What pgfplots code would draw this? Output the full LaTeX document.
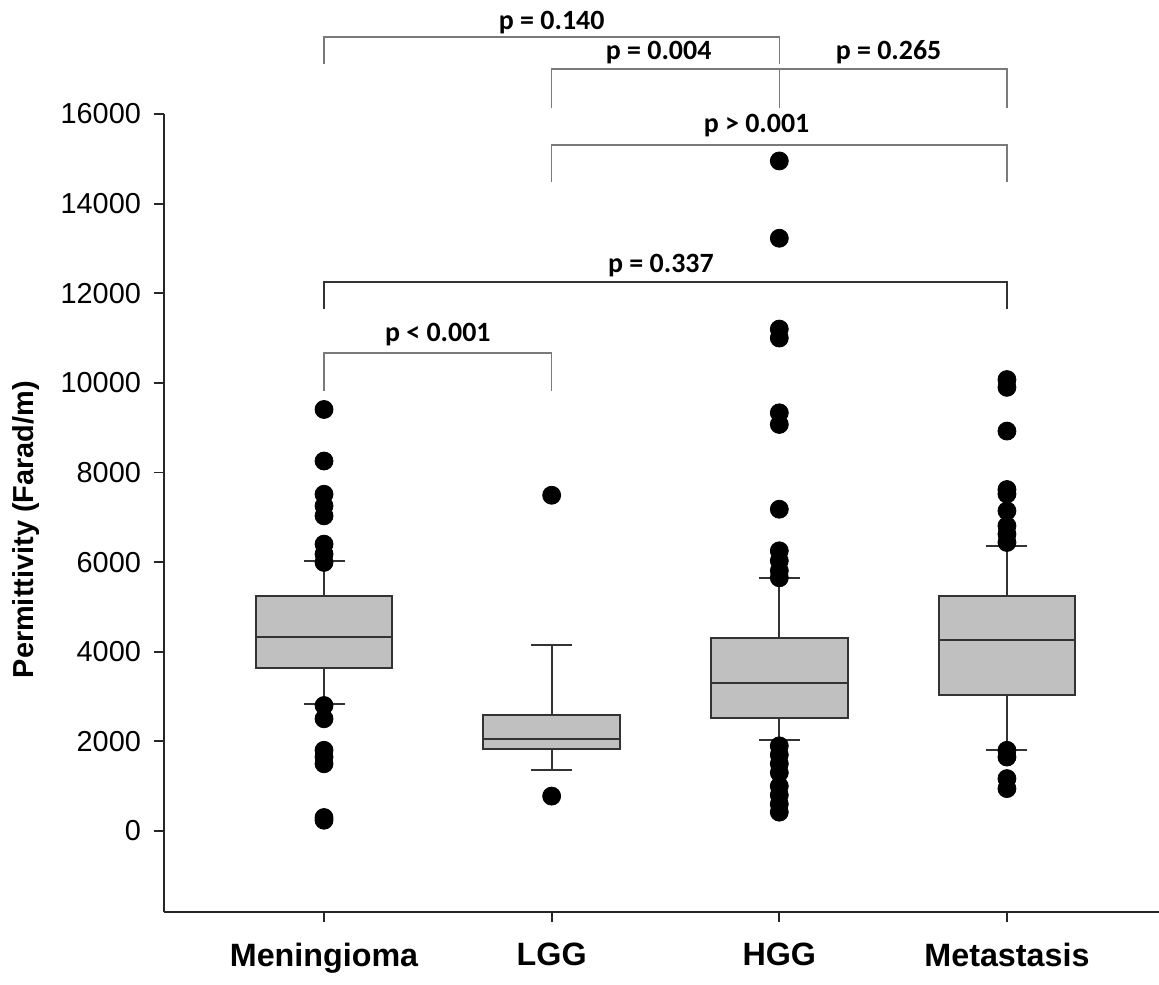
\documentclass[border=0pt]{standalone}
\usepackage{pgfplots}
\pgfplotsset{compat=1.18}
\usepgfplotslibrary{statistics}
\usepackage{fontspec}
\setmainfont{Liberation Sans}
\newfontfamily\carlito{Carlito}
\definecolor{boxgray}{HTML}{C0C0C0}
\definecolor{linegray}{HTML}{333333}
\definecolor{brgray}{HTML}{7A7A7A}

\begin{document}
\begin{tikzpicture}
\begin{axis}[
  scale only axis, width=497.5bp, height=399bp,
  xmin=0.297, xmax=4.668, ymin=-1808, ymax=16000,
  axis x line*=bottom, axis y line*=left,
  axis line style={line width=1.1bp, draw=black!85},
  xtick={1,2,3,4}, xticklabels={Meningioma,LGG,HGG,Metastasis},
  ytick={0,2000,...,16000},
  scaled y ticks=false,
  tick align=outside, major tick length=5bp,
  tick style={line width=0.9bp, draw=black!85},
  x tick label style={font=\fontsize{16.2}{18}\selectfont\bfseries, yshift=-7bp},
  y tick label style={font=\fontsize{14.5}{16}\selectfont, xshift=-3bp},
  /pgf/number format/assume math mode=true,
  /pgf/number format/fixed,
  /pgf/number format/1000 sep={},
  ylabel={\bfseries Permittivity (Farad/m)},
  every axis y label/.style={at={(axis description cs:0,0.479)}, xshift=-69bp,
    rotate=90, anchor=center, font=\fontsize{14.5}{16}\selectfont},
  clip=false,
  boxplot/draw direction=y,
  boxplot/box extend=0.6,
  boxplot/whisker extend=0.18,
  boxplot/every box/.style={fill=boxgray, draw=linegray, line width=1bp},
  boxplot/every whisker/.style={draw=linegray, line width=1bp},
  boxplot/every median/.style={draw=linegray, line width=1.1bp},
]
% Meningioma
\addplot[boxplot prepared={draw position=1, lower whisker=2824, lower quartile=3633,
  median=4323, upper quartile=5250, upper whisker=6022},
  mark=*, mark size=4.5bp, mark options={fill=black, draw=black}]
  table[row sep=\\, y index=0] {data\\ 9406\\ 8256\\ 7514\\ 7254\\ 7032\\ 6401\\ 6178\\ 5993\\
  2800\\ 2504\\ 1800\\ 1650\\ 1500\\ 300\\ 240\\};
% LGG
\addplot[boxplot prepared={draw position=2, lower whisker=1370, lower quartile=1830,
  median=2045, upper quartile=2579, upper whisker=4160},
  mark=*, mark size=4.5bp, mark options={fill=black, draw=black}]
  table[row sep=\\, y index=0] {data\\ 7492\\ 778\\};
% HGG
\addplot[boxplot prepared={draw position=3, lower whisker=2022, lower quartile=2527,
  median=3299, upper quartile=4315, upper whisker=5636},
  mark=*, mark size=4.5bp, mark options={fill=black, draw=black}]
  table[row sep=\\, y index=0] {data\\ 14952\\ 13227\\ 11200\\ 11000\\ 9332\\ 9072\\ 7180\\
  6252\\ 6030\\ 5807\\ 5650\\ 1900\\ 1700\\ 1500\\ 1300\\ 1000\\ 800\\ 600\\ 420\\};
% Metastasis
\addplot[boxplot prepared={draw position=4, lower whisker=1814, lower quartile=3024,
  median=4263, upper quartile=5250, upper whisker=6349},
  mark=*, mark size=4.5bp, mark options={fill=black, draw=black}]
  table[row sep=\\, y index=0] {data\\ 10074\\ 9900\\ 8924\\ 7620\\ 7520\\ 7143\\ 6809\\ 6623\\
  6438\\ 1800\\ 1650\\ 1169\\ 946\\};

% significance brackets
\draw[brgray, line width=0.8bp] (axis cs:1,17126) |- (axis cs:3,17719) -- (axis cs:3,17126);
\draw[brgray, line width=0.8bp] (axis cs:2,16126) |- (axis cs:4,17000) -- (axis cs:4,16126);
\draw[brgray, line width=0.8bp] (axis cs:3,17000) -- (axis cs:3,16126);
\draw[brgray, line width=0.8bp] (axis cs:2,14474) |- (axis cs:4,15311) -- (axis cs:4,14474);
\draw[linegray, line width=1.2bp] (axis cs:1,11644) |- (axis cs:4,12252) -- (axis cs:4,11644);
\draw[brgray, line width=0.8bp] (axis cs:1,9814) |- (axis cs:2,10668) -- (axis cs:2,9814);

\tikzset{plab/.style={font=\fontsize{14}{16}\selectfont\carlito\bfseries, anchor=base, inner sep=0pt}}
\node[plab] at (axis cs:2,17876) {p = 0.140};
\node[plab] at (axis cs:2.47,17206) {p = 0.004};
\node[plab] at (axis cs:3.48,17206) {p = 0.265};
\node[plab] at (axis cs:2.9,15577) {p > 0.001};
\node[plab] at (axis cs:2.48,12453) {p = 0.337};
\node[plab] at (axis cs:1.5,10913) {p < 0.001};
\end{axis}
\pgfresetboundingbox
\path ([shift={(-82bp,-36.5bp)}]current axis.south west)
  rectangle ([shift={(0bp,57bp)}]current axis.north east);
\end{tikzpicture}
\end{document}
